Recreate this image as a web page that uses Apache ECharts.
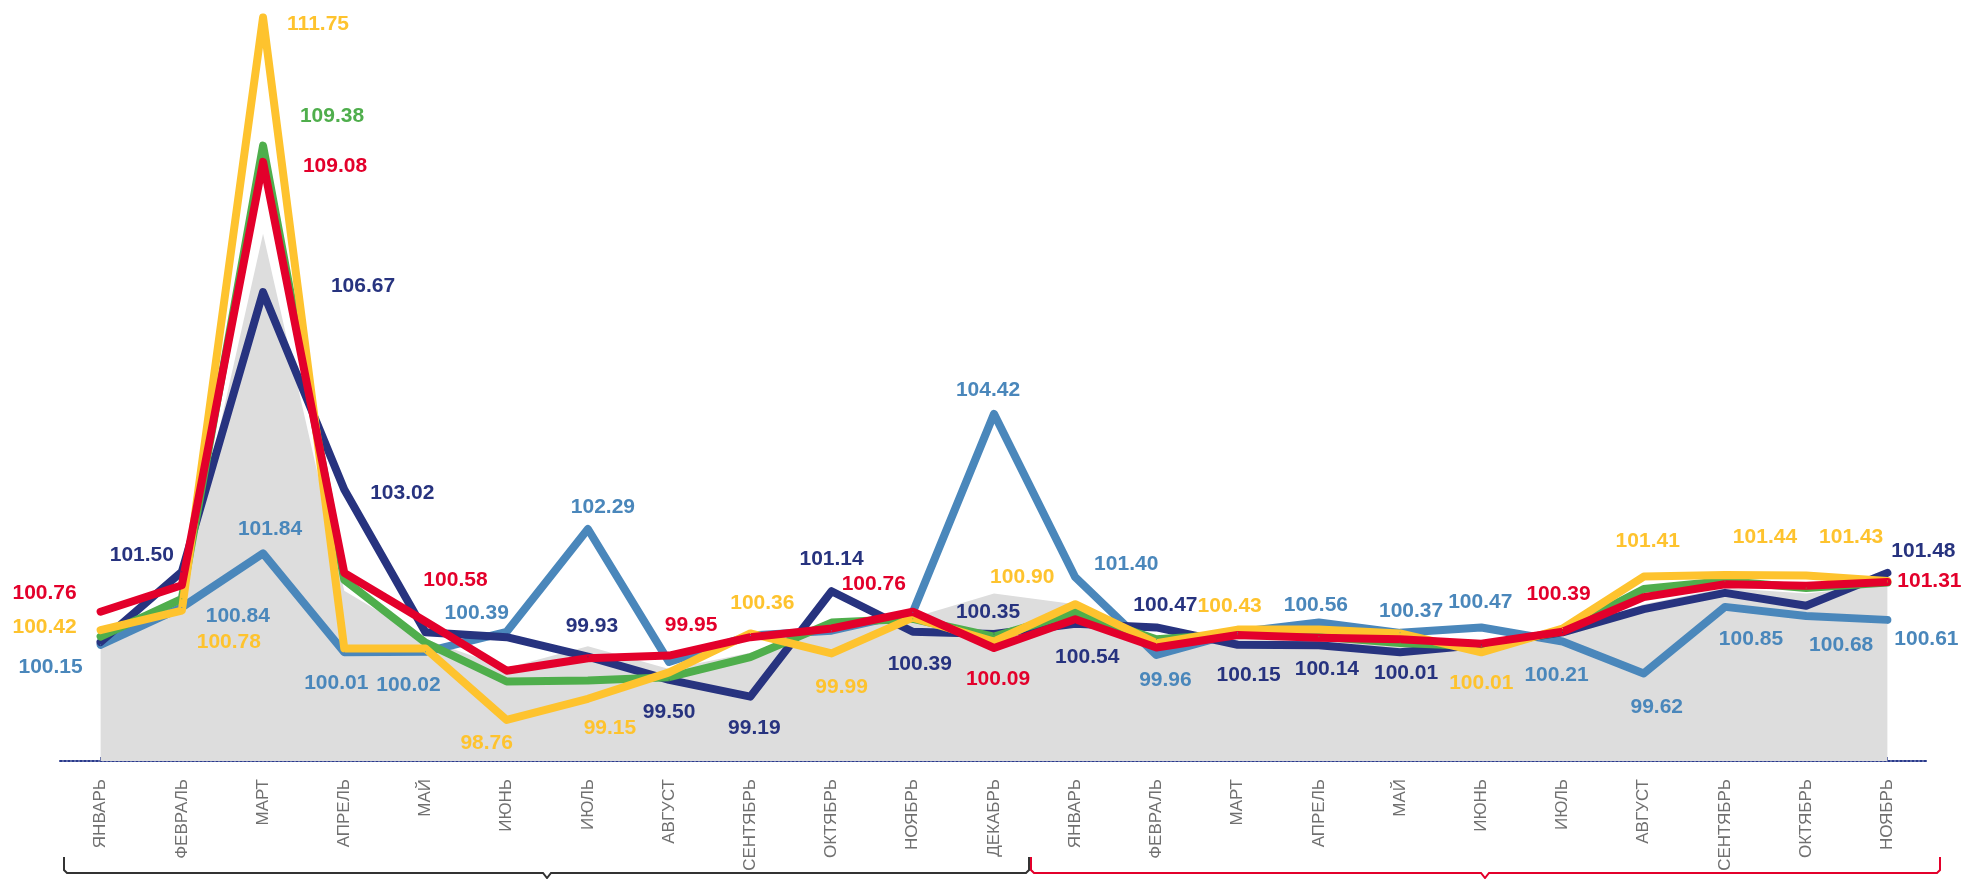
<!DOCTYPE html>
<html>
<head>
<meta charset="utf-8">
<script src="https://cdn.jsdelivr.net/npm/echarts@6/dist/echarts.min.js"></script>
<style>
html,body{margin:0;padding:0;background:#fff;}
#chart{width:1964px;height:879px;}
</style>
</head>
<body>
<div id="chart"></div>
<script>
const categories = ['ЯНВАРЬ','ФЕВРАЛЬ','МАРТ','АПРЕЛЬ','МАЙ','ИЮНЬ','ИЮЛЬ','АВГУСТ','СЕНТЯБРЬ','ОКТЯБРЬ','НОЯБРЬ','ДЕКАБРЬ',
  'ЯНВАРЬ','ФЕВРАЛЬ','МАРТ','АПРЕЛЬ','МАЙ','ИЮНЬ','ИЮЛЬ','АВГУСТ','СЕНТЯБРЬ','ОКТЯБРЬ','НОЯБРЬ'];

const grayArea = [100.35,101.05,107.75,101.15,100.25,99.72,100.12,99.7,100.0,100.5,100.65,101.1,100.9,100.3,100.3,100.3,100.2,100.2,100.35,100.9,101.2,101.1,101.25];
const navy = [100.20,101.50,106.67,103.02,100.38,100.29,99.93,99.50,99.19,101.14,100.39,100.35,100.54,100.47,100.15,100.14,100.01,100.15,100.38,100.81,101.11,100.87,101.48];
const green = [100.30,101.00,109.38,101.35,100.19,99.47,99.49,99.55,99.92,100.56,100.63,100.30,100.75,100.25,100.35,100.30,100.18,100.12,100.40,101.18,101.33,101.20,101.30];
const yellow = [100.42,100.78,111.75,100.08,100.08,98.76,99.15,99.64,100.36,99.99,100.65,100.21,100.90,100.18,100.43,100.43,100.36,100.01,100.45,101.41,101.44,101.43,101.33];
const red = [100.76,101.25,109.08,101.48,100.58,99.67,99.90,99.95,100.29,100.45,100.76,100.09,100.62,100.10,100.33,100.28,100.25,100.17,100.39,101.03,101.27,101.24,101.31];
const lightBlue = [100.15,100.84,101.84,100.01,100.02,100.39,102.29,99.83,100.32,100.41,100.75,104.42,101.40,99.96,100.38,100.56,100.37,100.47,100.21,99.62,100.85,100.68,100.61];

// label placement: [index, dx, dy] (styling only)
const labelSpots = {
  navy: [[1,-40,-17],[2,100,-6],[3,58,4],[6,4,-30],[7,0,32],[8,4,32],[9,0,-32],[10,7,32],[11,-6,-22],[12,12,34],[13,9,-22],[14,11,30],[15,8,24],[16,6,21],[22,36,-22]],
  green: [[2,69,-29]],
  yellow: [[0,-56,-3],[1,47,32],[2,55,7],[5,-20,23],[6,22,29],[8,12,-30],[9,10,34],[12,-53,-27],[14,-8,-23],[17,0,31],[19,4,-35],[20,40,-38],[21,45,-38]],
  red: [[0,-56,-19],[2,72,4],[4,30,-41],[7,22,-30],[10,-39,-28],[11,4,31],[18,-4,-38],[22,42,-1]],
  lightBlue: [[0,-50,22],[1,56,9],[2,7,-24],[3,-8,31],[4,-17,33],[5,-30,-19],[6,15,-22],[11,-6,-24],[12,51,-13],[13,9,25],[15,-3,-17],[16,11,-22],[17,-1,-25],[18,-6,34],[19,13,34],[20,26,32],[21,35,29],[22,39,19]]
};

const colors = {navy:'#27337f', green:'#4fae4c', yellow:'#fec32e', red:'#e3002b', lightBlue:'#4a87bb', gray:'#dddddd'};

function buildData(values, spots, color){
  const map = {};
  spots.forEach(s => { map[s[0]] = s; });
  return values.map((v, i) => {
    if (map[i]) {
      return {value: v, label: {show: true, position: 'inside', offset: [map[i][1], map[i][2]],
        color: color, fontSize: 21, fontWeight: 'bold', fontFamily: 'Liberation Sans, Arial, sans-serif',
        formatter: p => Number(p.value).toFixed(2)}};
    }
    return v;
  });
}

function lineSeries(name, values, key){
  return {
    name: name, type: 'line', data: buildData(values, labelSpots[key], colors[key]),
    symbol: 'circle', symbolSize: 1, showSymbol: true,
    itemStyle: {color: colors[key]},
    lineStyle: {color: colors[key], width: 8, join: 'round', cap: 'round'},
    label: {show: false},
    emphasis: {disabled: true},
    clip: false,
    z: 3
  };
}

const chart = echarts.init(document.getElementById('chart'));
const option = {
  animation: false,
  backgroundColor: '#ffffff',
  grid: {left: 60, right: 36, top: 4, bottom: 118, containLabel: false},
  xAxis: {
    type: 'category', data: categories, boundaryGap: true,
    axisLine: {show: true, lineStyle: {color: '#2a3a8c', width: 2, type: 'dotted'}},
    axisTick: {show: true, alignWithLabel: true, inside: true, length: 4, lineStyle: {color: '#2a3a8c', width: 1}},
    axisLabel: {rotate: 90, margin: 18, color: '#707070', fontSize: 17, fontFamily: 'Liberation Sans, Arial, sans-serif', interval: 0}
  },
  yAxis: {type: 'value', min: 98, max: 112, show: false, splitLine: {show: false}},
  series: [
    {name: 'Среднее', type: 'line', data: grayArea, symbol: 'none', lineStyle: {width: 0, color: colors.gray},
      areaStyle: {color: colors.gray, opacity: 1}, emphasis: {disabled: true}, z: 1},
    lineSeries('s5', lightBlue, 'lightBlue'),
    lineSeries('s1', navy, 'navy'),
    lineSeries('s2', green, 'green'),
    lineSeries('s3', yellow, 'yellow'),
    lineSeries('s4', red, 'red')
  ],
  graphic: [
    {type: 'polyline', shape: {points: [[64,857],[64,870],[67,873],[543,873],[547,878],[551,873],[1026,873],[1029,870],[1029,857]]},
      style: {stroke: '#333333', lineWidth: 2, fill: null}},
    {type: 'polyline', shape: {points: [[1031,857],[1031,870],[1034,873],[1481,873],[1485,878],[1489,873],[1937,873],[1940,870],[1940,857]]},
      style: {stroke: '#e3002b', lineWidth: 2, fill: null}}
  ]
};
chart.setOption(option);
</script>
</body>
</html>
